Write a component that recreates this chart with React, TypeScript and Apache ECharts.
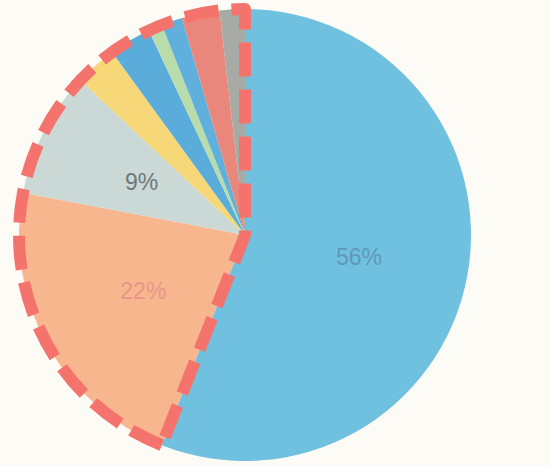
import React, { useEffect, useRef } from "react";
import * as echarts from "echarts";

const categories = ["A", "B", "C", "D", "E", "F", "G", "H", "I"];
const values = [56, 22, 9, 3, 3, 1, 1.5, 2.7, 1.8];
const colors = ["#70c0e0", "#f8b68e", "#cad8d6", "#f6d878", "#5aaddb", "#b8dcaa", "#5fb0dc", "#e9877c", "#a8aaa6"];
const labelColors = ["#5f98b6", "#e8958a", "#6e7a7a"];
const highlightedGroup = ["rest"]; // outlined group: all slices after the first

export default function App() {
  const ref = useRef<HTMLDivElement>(null);
  useEffect(() => {
    if (!ref.current) return;
    const chart = echarts.init(ref.current, undefined, { renderer: "svg" });
    const first = values[0];
    const rest = values.slice(1).reduce((a, b) => a + b, 0);
    const center = [245, 235];
    const radius = [0, 226];
    chart.setOption({
      animation: false,
      backgroundColor: "#fcfbf6",
      series: [
        {
          type: "pie",
          center,
          radius,
          startAngle: 90,
          clockwise: true,
          silent: true,
          label: {
            show: true,
            position: "inside",
            fontSize: 23,
            fontFamily: "Liberation Sans",
            formatter: (p: any) => Math.round(p.percent) + "%",
          },
          labelLine: { show: false },
          data: categories.map((c, i) => ({
            name: c,
            value: values[i],
            itemStyle: { color: colors[i], borderWidth: 0 },
            label: i < 3 ? { show: true, color: labelColors[i] } : { show: false },
          })),
        },
        {
          type: "pie",
          center,
          radius,
          startAngle: 90,
          clockwise: true,
          silent: true,
          label: { show: false },
          labelLine: { show: false },
          data: [
            { name: categories[0], value: first, itemStyle: { color: "rgba(0,0,0,0)", borderWidth: 0 } },
            {
              name: highlightedGroup[0],
              value: rest,
              itemStyle: {
                color: "rgba(0,0,0,0)",
                borderColor: "#f4746d",
                borderWidth: 12,
                borderType: [34, 13],
              },
            },
          ],
        },
      ],
    });
    return () => chart.dispose();
  }, []);
  return (
    <div
      ref={ref}
      style={{ position: "fixed", left: 0, top: 0, width: 550, height: 466 }}
    />
  );
}
